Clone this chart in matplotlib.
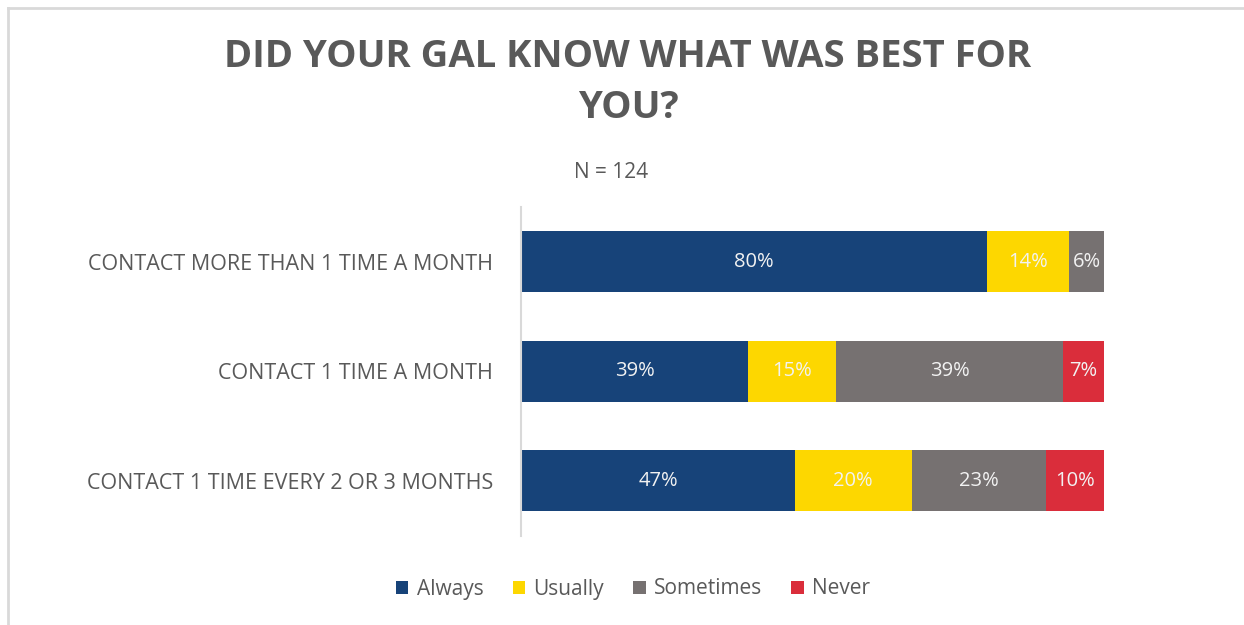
import matplotlib
matplotlib.use("Agg")
import matplotlib.pyplot as plt
from matplotlib.lines import Line2D
import numpy as np

categories = ["CONTACT MORE THAN 1 TIME A MONTH",
              "CONTACT 1 TIME A MONTH",
              "CONTACT 1 TIME EVERY 2 OR 3 MONTHS"]
series_names = ["Always", "Usually", "Sometimes", "Never"]
always = [80, 39, 47]
usually = [14, 15, 20]
sometimes = [6, 39, 23]
never = [0, 7, 10]
colors = ["#174379", "#FDD700", "#767171", "#DA2D3B"]

plt.rcParams['font.family'] = ['Open Sans', 'DejaVu Sans']

fig = plt.figure(figsize=(12.44, 6.25), dpi=100)
ax = fig.add_axes([521/1244, 1-535.5/625, (1104-521)/1244, 328.5/625])

y = np.arange(len(categories))
left = np.zeros(len(categories))
for name, vals, c in zip(series_names, [always, usually, sometimes, never], colors):
    vals = np.array(vals, dtype=float)
    bars = ax.barh(y, vals, left=left, height=0.557, color=c, label=name, edgecolor='none')
    for b, v in zip(bars, vals):
        if v > 0:
            ax.text(b.get_x() + b.get_width()/2, b.get_y() + b.get_height()/2,
                    f"{int(v)}%", ha='center', va='center', color='#F2F2F2', fontsize=14.5)
    left += vals

ax.set_xlim(0, 100)
ax.set_ylim(2.5, -0.5)
ax.set_yticks(y)
ax.set_yticklabels(categories, fontsize=15.5, color='#595959')
ax.tick_params(axis='y', length=0, pad=20)
ax.set_xticks([])
for s in ['top', 'right', 'bottom']:
    ax.spines[s].set_visible(False)
ax.spines['left'].set_color('#D9D9D9')
ax.spines['left'].set_linewidth(1.5)

fig.text(628/1244, 1-57/625, "DID YOUR GAL KNOW WHAT WAS BEST FOR", ha='center', va='center',
         fontsize=27.5, fontweight='bold', color='#595959')
fig.text(628/1244, 1-108/625, "YOU?", ha='center', va='center',
         fontsize=27.5, fontweight='bold', color='#595959')
fig.text(611/1244, 1-173/625, "N = 124", ha='center', va='center',
         fontsize=15, color='#595959')

leg = fig.legend(loc='center', bbox_to_anchor=(633/1244, 1-589/625), ncol=4, frameon=False,
                 fontsize=15, handlelength=0.6, handleheight=0.6, handletextpad=0.4,
                 columnspacing=1.4)
for t in leg.get_texts():
    t.set_color('#595959')

# outer border (left and top edges visible)
fig.add_artist(Line2D([8/1244, 8/1244], [0, 1-8/625], transform=fig.transFigure,
                      color='#D9D9D9', linewidth=2))
fig.add_artist(Line2D([8/1244, 1], [1-8/625, 1-8/625], transform=fig.transFigure,
                      color='#D9D9D9', linewidth=2))

fig.savefig("out.png", dpi=100)
